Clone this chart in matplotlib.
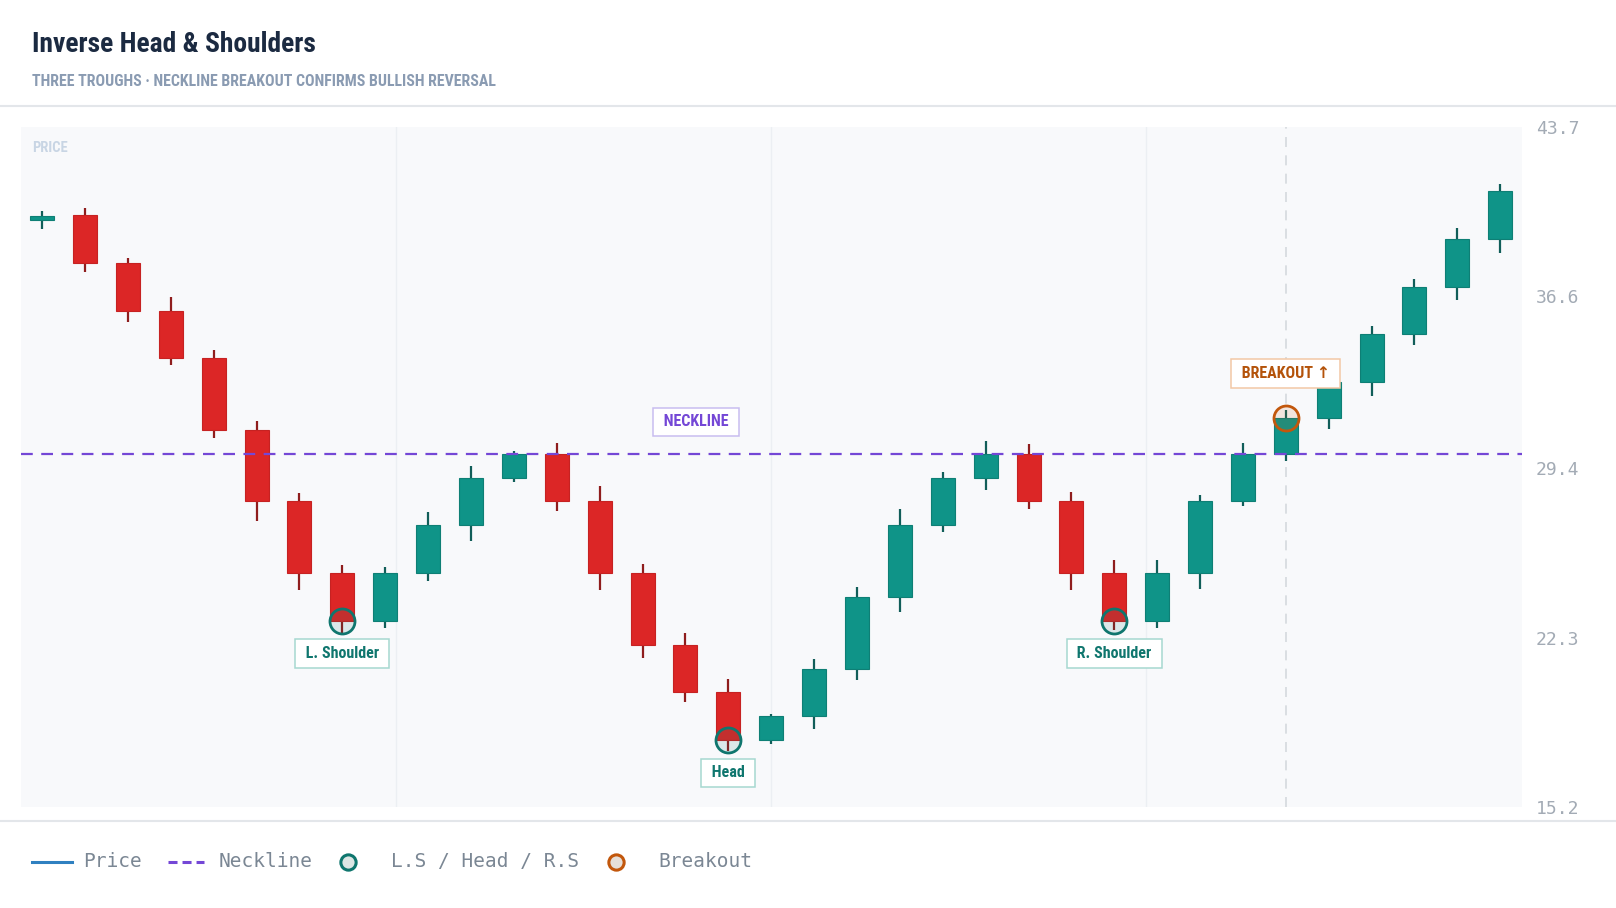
import numpy as np
import matplotlib
matplotlib.use("Agg")
import matplotlib.pyplot as plt
from matplotlib import font_manager
from matplotlib.lines import Line2D

# candle data (index = bar number)
opens = [39.8, 40, 38, 36, 34, 31, 28, 25, 23, 25, 27, 29, 30, 28, 25, 22, 20, 18,
         19, 21, 24, 27, 29, 30, 28, 25, 23, 25, 28, 30, 31.5, 33, 35, 37, 39]
highs = [40.15, 40.3, 38.2, 36.55, 34.35, 31.35, 28.35, 25.35, 25.25, 27.55, 29.5, 30.1,
         30.45, 28.65, 25.4, 22.5, 20.55, 19.1, 21.4, 24.4, 27.7, 29.25, 30.55, 30.4,
         28.4, 25.55, 25.55, 28.25, 30.45, 31.85, 33.3, 35.35, 37.3, 39.45, 41.3]
lows = [39.4, 37.6, 35.5, 33.7, 30.65, 27.2, 24.3, 22.5, 22.7, 24.65, 26.35, 28.8,
        27.6, 24.3, 21.45, 19.6, 17.55, 17.85, 18.45, 20.5, 23.35, 26.7, 28.5, 27.7,
        24.3, 22.6, 22.7, 24.35, 27.8, 29.7, 31.05, 32.4, 34.55, 36.45, 38.4]
closes = [39.95, 38, 36, 34, 31, 28, 25, 23, 25, 27, 29, 30, 28, 25, 22, 20, 18, 19,
          21, 24, 27, 29, 30, 28, 25, 23, 25, 28, 30, 31.5, 33, 35, 37, 39, 41]

neckline = 30.0
pivot_idx = [7, 16, 25]
pivot_names = ["L. Shoulder", "Head", "R. Shoulder"]
breakout_idx = 29

y_ticks = [15.2, 22.3, 29.4, 36.6, 43.7]
y_min, y_max = 15.2, 43.7

# condensed font: take the first one that is installed
names = {f.name for f in font_manager.fontManager.ttflist}
cond = next((n for n in ["Roboto Condensed", "Liberation Sans Narrow",
                         "Open Sans Condensed", "DejaVu Sans Condensed"] if n in names),
            "DejaVu Sans")
COND = [cond, "DejaVu Sans"]
MONO = ["DejaVu Sans Mono"]

UP, DOWN = "#0f9488", "#dc2626"
UP_WICK, DOWN_WICK = "#115e59", "#8f1d1d"
TEAL = "#0f766e"
ORANGE = "#c2570c"
PURPLE = "#7447d6"

W, H = 1616, 908
fig = plt.figure(figsize=(W / 100, H / 100), dpi=100)
fig.patch.set_facecolor("white")

ax = fig.add_axes([20.7 / W, 1 - 807 / H, (1521.7 - 20.7) / W, (807 - 126.7) / H])
ax.set_facecolor("#f8f9fb")
for s in ax.spines.values():
    s.set_visible(False)

n = len(closes)
x = np.arange(n)
o = np.array(opens)
c = np.array(closes)
up = c >= o
bottoms = np.minimum(o, c)
heights = np.maximum(np.abs(c - o), 0.12)

ax.set_xlim(-0.5, n - 0.5)
ax.set_ylim(y_min, y_max)

# faint vertical grid at quarters
for q in (1, 2, 3):
    ax.axvline(-0.5 + n * q / 4, color="#eceff3", lw=1, zorder=0)

# breakout guide
ax.axvline(breakout_idx, color="#d5d9de", lw=1.2, ls=(0, (6, 5)), zorder=1)

# wicks + bodies
ax.vlines(x, lows, highs, colors=np.where(up, UP_WICK, DOWN_WICK), lw=1.6, zorder=2)
ax.bar(x, heights, bottom=bottoms, width=0.56,
       color=np.where(up, UP, DOWN),
       edgecolor=np.where(up, "#0e7f75", "#c62222"), lw=0.8, zorder=3)

# neckline
ax.axhline(neckline, color=PURPLE, lw=1.6, ls=(0, (5.3, 3.8)), zorder=4)

# pivots
py = [closes[i] for i in pivot_idx]
ax.plot(pivot_idx, py, ls="none", marker="o", ms=18, mew=2.0, mec=TEAL,
        mfc=(0.06, 0.46, 0.43, 0.12), zorder=5)
for i, name in zip(pivot_idx, pivot_names):
    ax.annotate(" " + name + " ", (i, closes[i]), xytext=(0, -23.5), textcoords="offset points",
                ha="center", va="center", fontsize=11.5, fontweight="bold",
                family=COND, color=TEAL, zorder=7,
                bbox=dict(boxstyle="square,pad=0.42", fc="white", ec="#a6d8d0", lw=1.1))

# breakout
ax.plot([breakout_idx], [closes[breakout_idx]], ls="none", marker="o", ms=18, mew=2.0,
        mec=ORANGE, mfc=(0.76, 0.34, 0.05, 0.12), zorder=5)
ax.annotate(" BREAKOUT \u2191 ", (breakout_idx, closes[breakout_idx]), xytext=(0, 32),
            textcoords="offset points", ha="center", va="center", fontsize=11.5,
            fontweight="bold", family=COND, color="#b4530a", zorder=7,
            bbox=dict(boxstyle="square,pad=0.42", fc="white", ec="#f2c8a6", lw=1.1))

# neckline tag
ax.annotate(" NECKLINE ", (15.25, neckline), xytext=(0, 23), textcoords="offset points",
            ha="center", va="center", fontsize=11.5, fontweight="bold", family=COND,
            color=PURPLE, zorder=7,
            bbox=dict(boxstyle="square,pad=0.42", fc="white", ec="#c9bdf0", lw=1.1))

ax.text(0.0075, 0.969, "PRICE", transform=ax.transAxes, ha="left", va="center",
        fontsize=10.5, fontweight="bold", family=COND, color="#c8d5e4")

# y axis on the right
ax.set_xticks([])
ax.yaxis.tick_right()
ax.set_yticks(y_ticks)
ax.set_yticklabels([f"{v:.1f}" for v in y_ticks])
ax.tick_params(axis="y", length=0, pad=10, labelsize=13, labelcolor="#a3abb5")
for lab in ax.get_yticklabels():
    lab.set_family(MONO)

# header
fig.text(32.5 / W, 1 - 51.7 / H, "Inverse Head & Shoulders", ha="left", va="baseline",
         fontsize=19.8, fontweight="bold", family=COND, color="#1b2a41")
fig.text(32.5 / W, 1 - 86 / H, "THREE TROUGHS \u00b7 NECKLINE BREAKOUT CONFIRMS BULLISH REVERSAL",
         ha="left", va="baseline", fontsize=11.4, fontweight="bold", family=COND,
         color="#8a9bb2")
fig.add_artist(Line2D([0, 1], [1 - 106 / H, 1 - 106 / H], transform=fig.transFigure,
                      color="#e3e6ea", lw=1.5))
fig.add_artist(Line2D([0, 1], [1 - 820.7 / H, 1 - 820.7 / H], transform=fig.transFigure,
                      color="#e3e6ea", lw=1.5))

# legend
ly = 1 - 861.7 / H
fig.add_artist(Line2D([31.7 / W, 71.7 / W], [ly, ly], transform=fig.transFigure,
                      color="#2f80c0", lw=2.2))
fig.add_artist(Line2D([167.7 / W, 204 / W], [ly, ly], transform=fig.transFigure,
                      color=PURPLE, lw=2.2, ls=(0, (2.95, 1.64))))
fig.add_artist(Line2D([348.3 / W], [ly], transform=fig.transFigure, ls="none", marker="o",
                      ms=11, mew=2.2, mec=TEAL, mfc="#dce6e4"))
fig.add_artist(Line2D([616 / W], [ly], transform=fig.transFigure, ls="none", marker="o",
                      ms=11, mew=2.2, mec=ORANGE, mfc="#e6dfd8"))
for lx, txt in [(82.7, "Price"), (219, "Neckline"), (390.7, "L.S / Head / R.S"),
                (658.6, "Breakout")]:
    fig.text(lx / W, ly, txt, ha="left", va="center", fontsize=14, family=MONO,
             color="#7b8794")

fig.savefig("out.png", dpi=100, facecolor="white")
